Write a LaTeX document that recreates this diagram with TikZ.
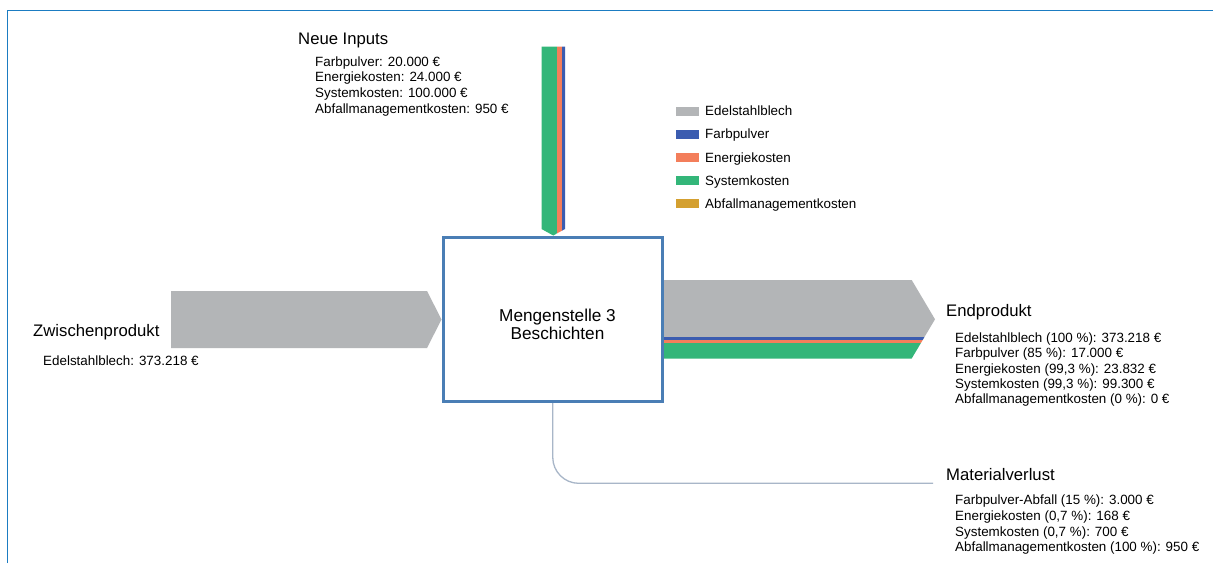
\documentclass[tikz,border=0pt]{standalone}
\usepackage{fontspec}
\setmainfont{Liberation Sans}
\definecolor{cGray}{HTML}{B3B5B7}
\definecolor{cBlue}{HTML}{3B5CB0}
\definecolor{cOrange}{HTML}{F37E5B}
\definecolor{cGreen}{HTML}{33B679}
\definecolor{cGold}{HTML}{D4A030}
\definecolor{cFrame}{HTML}{1B7CC2}
\definecolor{cBox}{HTML}{4A7EB5}
\definecolor{cLoss}{HTML}{A8B6C8}
\tikzset{
  lbl/.style={anchor=base west, inner sep=0pt, font=\fontsize{13.4}{15}\selectfont},
  head/.style={anchor=base west, inner sep=0pt, font=\fontsize{16.7}{19}\selectfont},
  boxtext/.style={anchor=base, inner sep=0pt, font=\fontsize{17.2}{19}\selectfont},
  swatch/.style={minimum width=22.3pt, minimum height=9pt, inner sep=0pt, anchor=west},
  procbox/.style={draw=cBox, line width=3pt, fill=white, minimum width=219.5pt,
    minimum height=164.5pt, inner sep=0pt},
  frameline/.style={draw=cFrame, line width=1.5pt},
  lossline/.style={draw=cLoss, line width=1.3pt, rounded corners=26pt},
}
\begin{document}
\begin{tikzpicture}[x=1pt,y=-1pt]
\useasboundingbox (0,0) rectangle (1213,563);
\fill[white] (0,0) rectangle (1213,563);
% outer frame
\draw[frameline] (7.5,563) -- (7.5,10.5) -- (1213,10.5);

% inflow from the top (new inputs)
\begin{scope}
  \clip (541.5,46.7) -- (565,46.7) -- (565,229) -- (553.25,235.5) -- (541.5,229) -- cycle;
  \fill[cGreen] (538,40) rectangle (557.3,240);
  \fill[cOrange] (557.3,40) rectangle (561.5,240);
  \fill[cBlue] (561.5,40) rectangle (568,240);
\end{scope}

% inflow from the left (intermediate product)
\fill[cGray] (171,291) -- (427,291) -- (441.5,319.5) -- (427,348) -- (171,348) -- cycle;

% outflow to the right (end product)
\begin{scope}
  \clip (664,280) -- (911.7,280) -- (935,319.3) -- (911.7,358.5) -- (664,358.5) -- cycle;
  \fill[cGray] (660,276) rectangle (940,336.7);
  \fill[cBlue] (660,336.7) rectangle (940,339.7);
  \fill[cOrange] (660,339.7) rectangle (940,343.3);
  \fill[cGreen] (660,343.3) rectangle (940,362);
\end{scope}

% process box
\node[procbox] (ms3) at (552.75,319.25) {};
\node[boxtext] (ms3a) at (557.5,321.7) {Mengenstelle 3};
\node[boxtext] (ms3b) at (557.5,339) {Beschichten};

% material loss path
\coordinate (lossend) at (933,483.3);
\draw[lossline] (ms3.south) |- (lossend);

% legend
\foreach \c/\t [count=\i] in {cGray/Edelstahlblech, cBlue/Farbpulver, cOrange/Energiekosten,
    cGreen/Systemkosten, cGold/Abfallmanagementkosten} {
  \pgfmathsetmacro\yy{111.5+23.1*(\i-1)}
  \node[swatch, fill=\c] (sw\i) at (676,\yy) {};
  \node[lbl] (lg\i) at (705,\yy+4.3) {\t};
}

% new inputs
\node[head] (nihead) at (298,44) {Neue Inputs};
\foreach \t [count=\i] in {{Farbpulver: 20.000 €},{Energiekosten: 24.000 €},
    {Systemkosten: 100.000 €},{Abfallmanagementkosten: 950 €}}
  \node[lbl] (ni\i) at (315,{66.2+15.6*(\i-1)}) {\t};

% intermediate product
\node[head] (zphead) at (33,336) {Zwischenprodukt};
\node[lbl] (zp1) at (43,365) {Edelstahlblech: 373.218 €};

% end product
\node[head] (ephead) at (946,316.7) {Endprodukt};
\foreach \t [count=\i] in {{Edelstahlblech (100 \%): 373.218 €},{Farbpulver (85 \%): 17.000 €},
    {Energiekosten (99,3 \%): 23.832 €},{Systemkosten (99,3 \%): 99.300 €},
    {Abfallmanagementkosten (0 \%): 0 €}}
  \node[lbl] (ep\i) at (955,{342.8+15.1*(\i-1)}) {\t};

% material loss
\node[head] (mvhead) at (946,480.5) {Materialverlust};
\foreach \t [count=\i] in {{Farbpulver-Abfall (15 \%): 3.000 €},{Energiekosten (0,7 \%): 168 €},
    {Systemkosten (0,7 \%): 700 €},{Abfallmanagementkosten (100 \%): 950 €}}
  \node[lbl] (mv\i) at (955,{504.5+15.8*(\i-1)}) {\t};
\end{tikzpicture}
\end{document}
